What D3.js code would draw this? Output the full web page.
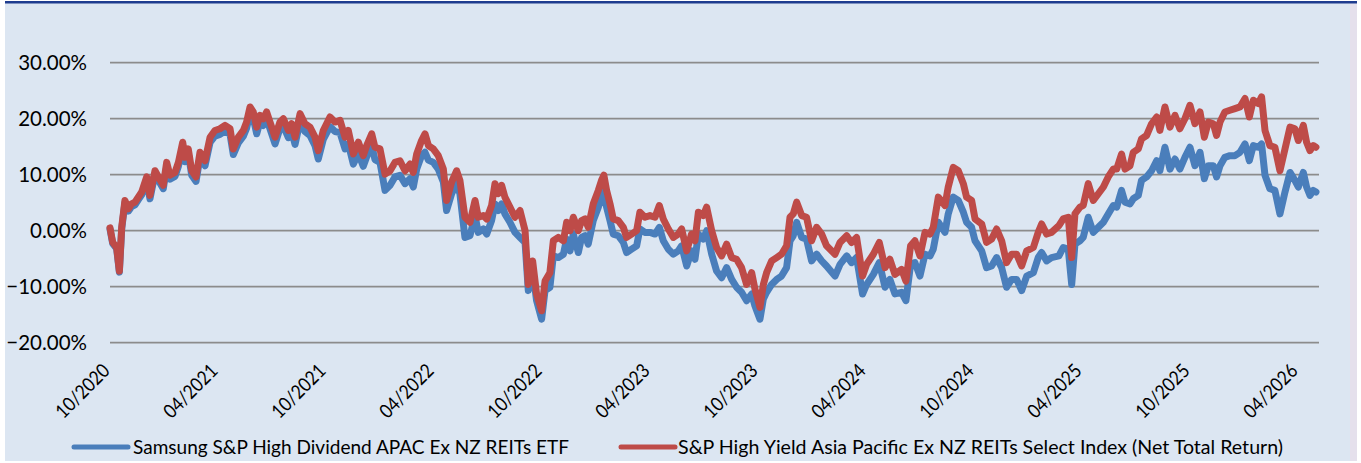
<!DOCTYPE html>
<html>
<head>
<meta charset="utf-8">
<script src="https://cdn.jsdelivr.net/npm/d3@7"></script>
<style>
  body { margin: 0; background: #ffffff; }
  text { font-family: Lato, "Open Sans", sans-serif; fill: #000; }
</style>
</head>
<body>
<script>
// months since 10/2020
var months = [0.00,0.15,0.37,0.52,0.65,0.83,1.02,1.20,1.39,1.57,1.76,2.04,2.22,2.50,2.69,2.96,3.15,3.33,3.61,3.80,
  4.04,4.17,4.35,4.54,4.78,5.00,5.28,5.56,5.83,6.11,6.39,6.67,6.85,7.13,7.41,7.59,7.78,7.96,8.15,8.33,
  8.52,8.70,8.89,9.17,9.44,9.63,9.91,10.09,10.28,10.56,10.83,11.11,11.39,11.57,11.85,12.22,12.50,12.78,13.06,13.24,
  13.52,13.80,14.07,14.26,14.54,14.72,15.00,15.28,15.56,15.83,16.11,16.39,16.67,16.85,17.04,17.31,17.50,17.69,17.96,18.24,
  18.52,18.70,18.98,19.26,19.44,19.72,20.00,20.28,20.46,20.74,20.93,21.20,21.39,21.57,21.76,21.94,22.22,22.50,22.78,23.06,
  23.24,23.48,23.70,23.98,24.17,24.44,24.63,24.91,25.19,25.37,25.56,25.74,26.02,26.20,26.39,26.57,26.85,27.13,27.31,27.44,
  27.59,27.78,27.96,28.24,28.52,28.70,28.98,29.26,29.44,29.72,30.00,30.28,30.52,30.74,31.02,31.30,31.57,31.76,32.04,32.31,
  32.50,32.69,32.96,33.15,33.43,33.70,33.98,34.26,34.54,34.81,35.09,35.37,35.65,35.83,36.11,36.30,36.48,36.76,37.04,37.31,
  37.59,37.78,37.96,38.15,38.43,38.70,38.98,39.26,39.54,39.81,40.28,40.56,40.93,41.20,41.48,41.81,42.04,42.41,42.74,43.06,
  43.33,43.61,43.98,44.22,44.48,44.72,45.00,45.28,45.56,45.74,46.02,46.39,46.57,46.85,47.13,47.41,47.59,47.87,48.06,48.43,
  48.70,48.98,49.26,49.54,49.81,50.09,50.37,50.65,50.93,51.30,51.57,51.76,52.04,52.31,52.72,52.96,53.24,53.43,53.61,53.89,
  54.07,54.35,54.63,54.91,55.19,55.46,55.74,55.93,56.20,56.39,56.67,56.85,57.13,57.31,57.59,57.87,58.15,58.33,58.61,58.89,
  59.17,59.44,59.72,60.00,60.28,60.56,60.80,61.02,61.30,61.48,61.67,61.94,62.22,62.50,62.78,63.06,63.30,63.52,63.80,63.98,
  64.17,64.44,64.72,65.00,65.28,65.56,65.83,66.02,66.30,66.48,66.67,66.85,67.00];

// Samsung S&P High Dividend APAC Ex NZ REITs ETF (%)
var etf = [0.3,-2.3,-3.2,-7.4,0.3,5.0,3.5,4.3,4.6,5.5,6.4,9.0,5.7,10.1,9.0,7.5,11.5,9.2,9.7,11.5,
  15.0,12.3,13.8,9.9,8.8,13.1,11.6,15.8,16.9,17.2,17.8,17.2,13.6,15.7,16.9,18.3,21.0,20.1,17.3,19.4,
  18.8,20.0,18.2,15.5,18.2,18.7,16.6,17.8,15.4,19.5,17.7,17.0,15.2,12.8,16.3,18.6,17.7,17.5,14.6,15.5,
  11.9,13.8,11.5,13.2,15.2,12.7,12.2,7.2,8.1,9.6,9.9,8.4,9.3,7.8,11.0,13.4,14.0,12.6,12.2,11.0,
  8.7,3.6,6.6,8.4,6.6,-1.2,-0.9,2.7,-0.3,0.3,-0.6,1.8,4.8,3.6,4.8,3.0,1.5,-0.3,-1.2,-2.1,
  -10.7,-6.9,-12.5,-15.8,-10.7,-10.1,-4.5,-4.8,-4.2,-1.5,-3.6,-0.6,-3.9,-1.2,-0.9,-2.4,1.8,4.2,6.0,6.9,
  4.2,1.8,-0.6,-0.9,-2.1,-3.9,-3.3,-2.7,0.3,-0.3,-0.3,-0.6,0.6,-1.8,-3.3,-4.2,-3.6,-2.7,-6.3,-3.6,
  -5.1,-0.6,-1.5,0.0,-4.2,-7.2,-8.4,-6.6,-8.7,-10.1,-11.0,-12.5,-11.3,-13.4,-15.8,-12.2,-11.0,-9.6,-8.7,-8.1,
  -6.6,-1.8,-0.9,1.5,-1.2,-1.5,-5.4,-4.2,-5.4,-6.3,-8.1,-6.0,-4.5,-5.7,-4.8,-11.3,-9.6,-7.8,-5.7,-10.1,
  -8.7,-11.3,-11.0,-12.5,-6.0,-5.7,-8.1,-4.2,-4.5,-3.3,1.5,-0.3,3.0,6.0,5.4,3.3,1.5,0.6,-1.8,-3.6,
  -6.6,-6.3,-4.8,-6.6,-10.1,-8.7,-8.7,-10.7,-8.1,-7.5,-4.8,-3.9,-5.4,-4.8,-4.5,-3.0,-3.3,-9.6,-2.4,-1.8,
  -1.2,2.4,-0.3,0.6,1.5,3.0,4.5,4.2,7.2,5.1,4.8,5.7,6.3,9.0,9.6,10.7,12.5,10.7,14.9,11.0,
  12.8,11.0,13.1,14.9,11.6,14.0,9.3,11.6,11.6,9.6,11.6,13.1,13.4,13.4,14.0,15.5,12.5,15.2,14.9,15.5,
  9.9,7.5,7.2,3.0,6.9,10.4,9.0,7.8,10.4,7.8,6.3,7.2,6.9];

// S&P High Yield Asia Pacific Ex NZ REITs Select Index (Net Total Return) (%)
var indexTR = [0.5,-2.1,-3.0,-7.2,0.6,5.4,3.9,4.8,5.1,6.0,6.9,9.6,6.3,10.7,9.6,8.1,12.2,9.9,10.4,12.2,
  15.8,13.1,14.6,10.7,9.6,14.0,12.5,16.7,17.9,18.2,18.8,18.2,14.6,16.7,17.9,19.4,22.1,21.2,18.5,20.6,
  20.0,21.2,19.4,16.7,19.4,20.0,17.9,19.1,16.7,20.9,19.1,18.5,16.7,14.3,17.9,20.3,19.4,19.7,16.7,17.9,
  13.7,15.8,13.4,15.2,17.3,14.9,14.6,10.1,10.7,12.2,12.5,10.7,11.9,10.4,13.7,16.1,17.3,15.2,14.6,13.4,
  11.0,5.4,8.7,10.7,9.0,2.4,1.5,5.4,2.4,2.7,2.1,4.5,8.4,6.6,8.1,6.0,4.2,2.4,3.6,0.0,
  -9.6,-5.4,-11.3,-14.3,-9.0,-7.5,-1.8,-1.2,-1.8,1.5,0.0,2.4,0.0,1.8,2.1,0.6,4.8,7.2,9.0,9.9,
  7.2,4.8,2.1,1.8,0.6,-1.2,-0.6,0.0,3.3,2.4,2.7,2.4,4.5,2.1,0.3,-1.2,-0.6,0.3,-3.6,-0.6,
  -1.8,3.3,2.7,4.2,0.0,-3.0,-4.5,-2.4,-4.8,-5.1,-6.6,-9.6,-7.5,-10.4,-13.7,-9.6,-7.5,-5.4,-4.8,-4.2,
  -2.7,2.4,3.0,5.1,2.7,2.4,-1.8,0.6,-0.6,-2.7,-4.2,-2.1,-0.9,-2.1,-1.2,-8.1,-6.0,-4.2,-2.1,-6.6,
  -5.1,-7.8,-6.9,-9.0,-2.7,-1.8,-4.5,-0.3,-0.6,0.6,6.0,4.5,7.8,11.3,10.7,8.4,6.0,5.4,2.1,1.2,
  -2.1,-1.5,0.3,-1.8,-5.7,-4.2,-4.2,-6.3,-3.6,-3.0,-0.3,1.2,-0.6,-0.3,0.9,2.1,2.4,-4.8,3.0,4.2,
  4.5,8.4,5.4,6.6,7.8,9.6,11.0,11.0,13.7,11.0,11.6,14.0,14.6,16.4,17.0,19.1,20.3,17.9,22.1,18.5,
  20.6,18.2,20.0,22.4,19.1,21.2,16.7,19.4,19.1,17.0,19.4,21.2,21.5,21.8,22.1,23.6,20.3,23.3,22.7,23.9,
  17.9,15.2,14.9,10.7,14.6,18.5,18.2,16.1,18.8,15.8,14.3,15.2,14.9];

var tickLabels = ["10/2020","04/2021","10/2021","04/2022","10/2022","04/2023","10/2023","04/2024","10/2024","04/2025","10/2025","04/2026"];
var yTicks = [-20, -10, 0, 10, 20, 30];
var seriesNames = ["Samsung S&P High Dividend APAC Ex NZ REITs ETF",
                   "S&P High Yield Asia Pacific Ex NZ REITs Select Index (Net Total Return)"];
var colors = ["#4A7EBB", "#BE4B48"];

var width = 1361, height = 463;
var plot = {left: 110, right: 1319, top: 62.7, bottom: 342.7};

var svg = d3.select("body")
            .append("svg")
            .attr("width", width)
            .attr("height", height);

// chart background + frame
svg.append("rect")
   .attr("x", 5).attr("y", 3)
   .attr("width", 1345).attr("height", 458)
   .attr("fill", "#DCE6F2");
svg.append("rect")
   .attr("x", 1350).attr("y", 3)
   .attr("width", 7).attr("height", 458)
   .attr("fill", "#E5E0EC");
svg.append("line")
   .attr("x1", 5).attr("x2", 1357)
   .attr("y1", 2.2).attr("y2", 2.2)
   .attr("stroke", "#1E3C8F")
   .attr("stroke-width", 2.6);

var xScale = d3.scaleLinear()
               .domain([0, 67.17])
               .range([plot.left, plot.right]);

var yScale = d3.scaleLinear()
               .domain([-20, 30])
               .range([plot.bottom, plot.top]);

// gridlines
svg.append("g")
   .selectAll("line")
   .data(yTicks)
   .enter()
   .append("line")
   .attr("x1", plot.left)
   .attr("x2", plot.right)
   .attr("y1", function(d){ return yScale(d); })
   .attr("y2", function(d){ return yScale(d); })
   .attr("stroke", "#8C8C8C")
   .attr("stroke-width", 1.8);

// y labels
svg.append("g")
   .selectAll("text")
   .data(yTicks)
   .enter()
   .append("text")
   .attr("x", 87)
   .attr("y", function(d){ return yScale(d) + 7.5; })
   .attr("text-anchor", "end")
   .style("font-size", "20.5px")
   .text(function(d){ return d3.format(".2f")(d) + "%"; });

// x labels, every 6 months
svg.append("g")
   .selectAll("text")
   .data(tickLabels)
   .enter()
   .append("text")
   .attr("text-anchor", "end")
   .attr("transform", function(d, i){
      return "translate(" + (xScale(i * 6) + 1) + ",372) rotate(-45)";
   })
   .attr("textLength", 67)
   .attr("lengthAdjust", "spacingAndGlyphs")
   .style("font-size", "19.5px")
   .text(function(d){ return d; });

// lines
var line = d3.line()
             .x(function(d){ return xScale(d[0]); })
             .y(function(d){ return yScale(d[1]); })
             .curve(d3.curveLinear);

[etf, indexTR].forEach(function(vals, k){
  svg.append("path")
     .datum(months.map(function(m, i){ return [m, vals[i]]; }))
     .attr("d", line)
     .attr("fill", "none")
     .attr("stroke", colors[k])
     .attr("stroke-width", 7)
     .attr("stroke-linejoin", "round")
     .attr("stroke-linecap", "round");
});

// legend
var legendPos = [{x1: 74, x2: 128, tx: 133, w: 436}, {x1: 621, x2: 675, tx: 678, w: 605}];
legendPos.forEach(function(p, k){
  svg.append("line")
     .attr("x1", p.x1).attr("x2", p.x2)
     .attr("y1", 447).attr("y2", 447)
     .attr("stroke", colors[k])
     .attr("stroke-width", 5)
     .attr("stroke-linecap", "round");
  svg.append("text")
     .attr("x", p.tx)
     .attr("y", 453.5)
     .attr("textLength", p.w)
     .attr("lengthAdjust", "spacingAndGlyphs")
     .style("font-size", "19.5px")
     .text(seriesNames[k]);
});
</script>
</body>
</html>
